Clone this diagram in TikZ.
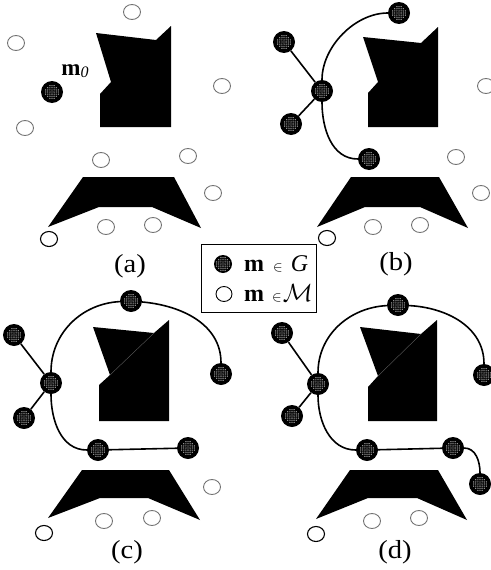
\documentclass[tikz,border=0pt]{standalone}
\usepackage{fontspec}
\setmainfont{Liberation Serif}
\usetikzlibrary{shapes.geometric}
\tikzset{
  obst/.style={fill=black},
  free/.style={ellipse, draw=black!55, line width=0.9pt, minimum width=17pt,
    minimum height=15pt, inner sep=0pt},
  startfree/.style={free, draw=black, line width=1.1pt},
  gnode/.style={circle, fill=black, minimum size=22pt, inner sep=0pt,
    path picture={
      \foreach \i in {-3,...,3}{\foreach \j in {-3,...,3}{
        \pgfmathtruncatemacro\dd{\i*\i+\j*\j}
        \ifnum\dd<11
          \fill[black!22] ([xshift=\i*2.1pt,yshift=\j*2.1pt]path picture bounding box.center) circle (0.65pt);
        \fi}}}},
  edge/.style={line width=1.6pt},
  seam/.style={black!60, line width=0.35pt},
  panellabel/.style={inner sep=0pt, font=\fontsize{26}{26}\selectfont, xscale=1.1},
}
\begin{document}
\begin{tikzpicture}[x=1pt,y=-1pt]
\useasboundingbox (0,0) rectangle (490,570);

% ---------- panel (a) ----------
\fill[obst] (96,33) -- (156,40) -- (171,26) -- (171,127) -- (100,127) -- (100,94) -- (111,82) -- cycle;
\fill[obst] (83,177) -- (174,177) -- (201,228) -- (152,207) -- (99,207) -- (48,227) -- cycle;
\node[free] (a1) at (132,12) {};
\node[free] (a2) at (16,43) {};
\node[free] (a3) at (222,86) {};
\node[free] (a4) at (25,128) {};
\node[free] (a5) at (101,160) {};
\node[free] (a6) at (188,156) {};
\node[free] (a7) at (213,193) {};
\node[free] (a8) at (106,227) {};
\node[free] (a9) at (153,225) {};
\node[startfree] (a0) at (49,239) {};
\node[gnode] (am) at (52,92) {};
\node[inner sep=0pt, font=\fontsize{23}{23}\selectfont] (amlab) at (75,71)
  {\textbf{m}\raisebox{-2pt}{\fontsize{16}{16}\selectfont\textit{0}}};
\node[panellabel] (la) at (130,266) {(a)};

% ---------- panel (b) ----------
\fill[obst] (363,37) -- (421,43) -- (438,27) -- (438,127) -- (368,127) -- (368,93) -- (378,82) -- cycle;
\fill[obst] (351,177) -- (439,177) -- (468,228) -- (420,207) -- (365,207) -- (317,227) -- cycle;
\node[free] (b1) at (486,86) {};
\node[free] (b2) at (456,157) {};
\node[free] (b3) at (481,193) {};
\node[free] (b4) at (373,227) {};
\node[free] (b5) at (420,225) {};
\node[startfree] (b0) at (327,238) {};
\node[gnode] (bt) at (399,13) {};
\node[gnode] (blu) at (284,42) {};
\node[gnode] (bc) at (322,91) {};
\node[gnode] (bll) at (291,124) {};
\node[gnode] (bb) at (369,159) {};
\draw[edge] (bc) -- (blu);
\draw[edge] (bc) -- (bll);
\draw[edge] (bt) to[out=180,in=90,looseness=0.9] (bc);
\draw[edge] (bc) to[out=-90,in=180] (bb);
\node[panellabel] (lb) at (396,264) {(b)};

% ---------- legend ----------
\draw[line width=1pt] (201,244) rectangle (316,312);
\node[gnode, minimum size=18pt] (lg) at (223,264) {};
\node[free, draw=black, minimum width=16pt, minimum height=15pt] (lm) at (224,294) {};
\node[anchor=base west, inner sep=0pt, font=\fontsize{24}{24}\selectfont] (lgt) at (244,271)
  {\textbf{m}\hspace{9pt}{\fontsize{15}{15}\selectfont$\in$}\hspace{8pt}\textit{G}};
\node[anchor=base west, inner sep=0pt, font=\fontsize{24}{24}\selectfont] (lmt) at (244,301)
  {\textbf{m}\hspace{8pt}{\fontsize{15}{15}\selectfont$\in$}\hspace{1pt}$\mathcal{M}$};

% ---------- panel (c) ----------
\fill[obst] (93,327) -- (154,333) -- (169,320) -- (169,421) -- (99,421) -- (99,385) -- (110,375) -- cycle;
\draw[seam] (154,333) -- (110,375);
\fill[obst] (82,470) -- (169,470) -- (200,520) -- (148,498) -- (100,498) -- (48,518) -- cycle;
\node[free] (c1) at (212,487) {};
\node[free] (c2) at (104,521) {};
\node[free] (c3) at (152,518) {};
\node[startfree] (c0) at (44,533) {};
\node[gnode] (ct) at (131,301) {};
\node[gnode] (clu) at (14,335) {};
\node[gnode] (cc) at (51,383) {};
\node[gnode] (cll) at (24,418) {};
\node[gnode] (cr) at (221,374) {};
\node[gnode] (cb) at (98,450) {};
\node[gnode] (cbr) at (188,448) {};
\draw[edge] (cc) -- (clu);
\draw[edge] (cc) -- (cll);
\draw[edge] (ct) to[out=-5,in=90] (cr);
\draw[edge] (ct) to[out=183,in=90] (cc);
\draw[edge] (cc) to[out=-90,in=180] (cb);
\draw[edge] (cb) -- (cbr);
\node[panellabel] (lc) at (127,552) {(c)};

% ---------- panel (d) ----------
\fill[obst] (360,327) -- (421,334) -- (437,320) -- (437,421) -- (368,421) -- (368,387) -- (378,376) -- cycle;
\draw[seam] (421,334) -- (378,376);
\fill[obst] (350,470) -- (438,470) -- (467,520) -- (417,498) -- (368,498) -- (316,519) -- cycle;
\node[free] (d2) at (372,521) {};
\node[free] (d3) at (419,518) {};
\node[startfree] (d0) at (316,534) {};
\node[gnode] (dt) at (398,305) {};
\node[gnode] (dlu) at (282,333) {};
\node[gnode] (dc) at (318,384) {};
\node[gnode] (dll) at (292,416) {};
\node[gnode] (dr) at (484,375) {};
\node[gnode] (db) at (367,450) {};
\node[gnode] (dbr) at (453,448) {};
\node[gnode] (df) at (480,484) {};
\draw[edge] (dc) -- (dlu);
\draw[edge] (dc) -- (dll);
\draw[edge] (dt) to[out=-3,in=90] (dr);
\draw[edge] (dt) to[out=183,in=90] (dc);
\draw[edge] (dc) to[out=-90,in=180] (db);
\draw[edge] (db) -- (dbr);
\draw[edge] (dbr) to[out=0,in=90] (df);
\node[panellabel] (ld) at (395,552) {(d)};
\end{tikzpicture}
\end{document}
